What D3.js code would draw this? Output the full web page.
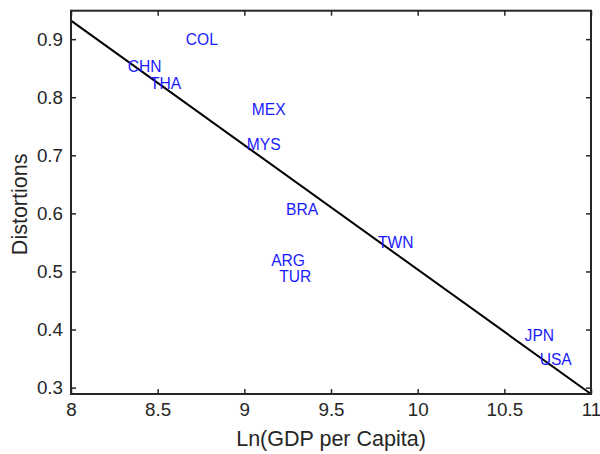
<!DOCTYPE html>
<html>
<head>
<meta charset="utf-8">
<script src="https://cdn.jsdelivr.net/npm/d3@7"></script>
<style>
  body { margin: 0; background: #fff; }
  text { font-family: Helvetica, "Liberation Sans", Arial, sans-serif; }
</style>
</head>
<body>
<div id="chart"></div>
<script>
const width = 600;
const height = 454;

// country labels and their positions (ln GDP per capita, distortions)
const countries = ["COL", "CHN", "THA", "MEX", "MYS", "BRA", "TWN", "ARG", "TUR", "JPN", "USA"];
const lnGdp = [8.662, 8.327, 8.456, 9.043, 9.014, 9.241, 9.771, 9.155, 9.201, 10.617, 10.704];
const distortions = [0.899, 0.853, 0.823, 0.779, 0.719, 0.607, 0.550, 0.519, 0.491, 0.390, 0.349];

// fitted line endpoints
const fitX = [8, 11];
const fitY = [0.932, 0.289];

const xTicks = [8, 8.5, 9, 9.5, 10, 10.5, 11];
const yTicks = [0.3, 0.4, 0.5, 0.6, 0.7, 0.8, 0.9];

const margin = { top: 10.7, right: 9, bottom: 60, left: 71 };

const x = d3.scaleLinear().domain([8, 11]).range([margin.left, width - margin.right]);
const y = d3.scaleLinear().domain([0.289, 0.949]).range([height - margin.bottom, margin.top]);

const svg = d3.select("#chart").append("svg")
  .attr("width", width)
  .attr("height", height);

const axisColor = "#262626";
const tickLen = 5;
const fontFamily = "Helvetica, 'Liberation Sans', Arial, sans-serif";

// fit line
svg.append("line")
  .attr("x1", x(fitX[0]))
  .attr("y1", y(fitY[0]))
  .attr("x2", x(fitX[1]))
  .attr("y2", y(fitY[1]))
  .attr("stroke", "#000")
  .attr("stroke-width", 2);

// country labels
svg.append("g")
  .selectAll("text")
  .data(countries)
  .join("text")
  .attr("x", (d, i) => x(lnGdp[i]))
  .attr("y", (d, i) => y(distortions[i]))
  .attr("dy", "0.35em")
  .attr("fill", "#1a1aff")
  .attr("font-size", 15.6)
  .text(d => d);

// axes (ticks inward, box on)
const xAxisBottom = d3.axisBottom(x).tickValues(xTicks).tickSize(-tickLen).tickPadding(9).tickFormat(d3.format("~g"));
const xAxisTop = d3.axisTop(x).tickValues(xTicks).tickSize(-tickLen).tickFormat("");
const yAxisLeft = d3.axisLeft(y).tickValues(yTicks).tickSize(-tickLen).tickPadding(8).tickFormat(d3.format(".1f"));
const yAxisRight = d3.axisRight(y).tickValues(yTicks).tickSize(-tickLen).tickFormat("");

function styleAxis(g) {
  g.select(".domain").remove();
  g.selectAll(".tick line").attr("stroke", axisColor).attr("stroke-width", 1.5);
  g.selectAll(".tick text")
    .attr("fill", axisColor)
    .attr("font-size", 18.8)
    .attr("font-family", fontFamily);
}

svg.append("g").attr("transform", `translate(0,${height - margin.bottom})`).call(xAxisBottom).call(styleAxis);
svg.append("g").attr("transform", `translate(0,${margin.top})`).call(xAxisTop).call(styleAxis);
svg.append("g").attr("transform", `translate(${margin.left},0)`).call(yAxisLeft).call(styleAxis);
svg.append("g").attr("transform", `translate(${width - margin.right},0)`).call(yAxisRight).call(styleAxis);

// box
svg.append("rect")
  .attr("x", margin.left)
  .attr("y", margin.top)
  .attr("width", width - margin.left - margin.right)
  .attr("height", height - margin.top - margin.bottom)
  .attr("fill", "none")
  .attr("stroke", axisColor)
  .attr("stroke-width", 2);

// axis titles
svg.append("text")
  .attr("x", x(9.5))
  .attr("y", 446)
  .attr("text-anchor", "middle")
  .attr("font-size", 21.5)
  .attr("fill", axisColor)
  .text("Ln(GDP per Capita)");

svg.append("text")
  .attr("transform", `translate(27,${(margin.top + height - margin.bottom) / 2 + 2}) rotate(-90)`)
  .attr("text-anchor", "middle")
  .attr("font-size", 21.5)
  .attr("fill", axisColor)
  .text("Distortions");
</script>
</body>
</html>
